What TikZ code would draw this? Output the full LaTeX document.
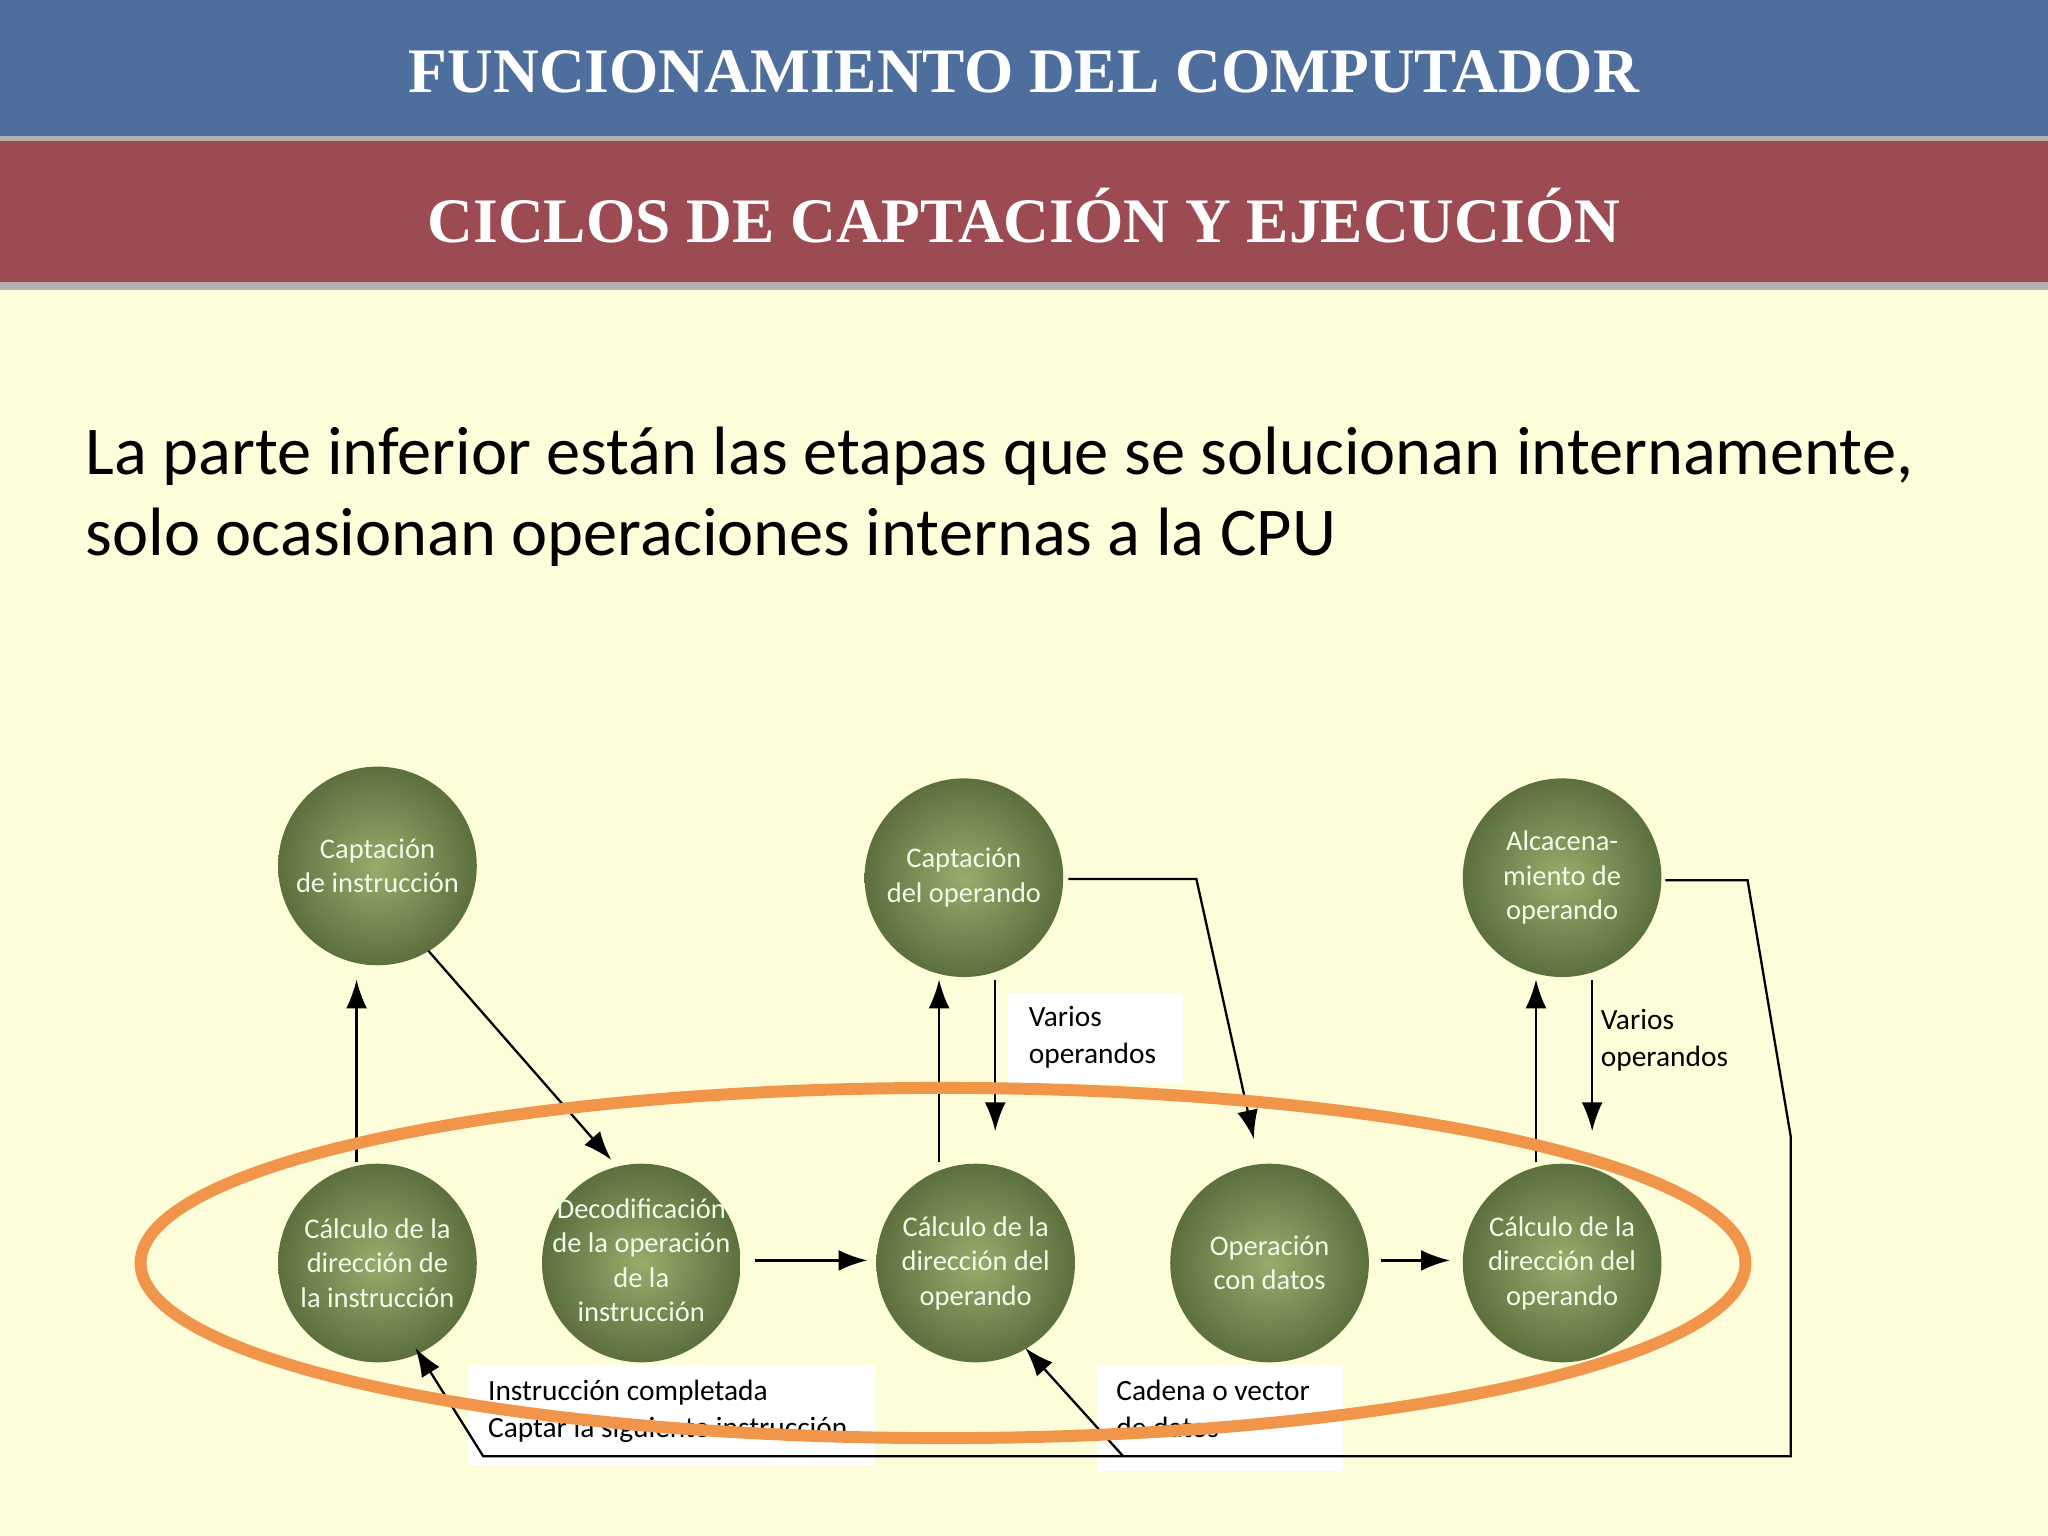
\documentclass[tikz,border=0pt]{standalone}
\usepackage{fontspec}
\setmainfont{Carlito}
\newfontfamily\titlefont{Liberation Serif}
\usetikzlibrary{arrows.meta,shapes.geometric}
\definecolor{bg}{HTML}{FDFDD9}
\definecolor{bannerblue}{HTML}{4E6E9E}
\definecolor{bannerred}{HTML}{9C4B52}
\definecolor{ballin}{HTML}{97AD6C}
\definecolor{ballout}{HTML}{5C703E}
\definecolor{orng}{HTML}{F0954A}
\tikzset{
 ball/.style={circle,inner sep=0pt,inner color=ballin,outer color=ballout,text=white!92!green,align=center,font=\fontsize{6.2}{7.5}\selectfont,minimum size=1.52cm},
 conn/.style={-{Latex[length=2.2mm,width=1.6mm]},line width=0.5pt},
 lbl/.style={align=left,anchor=north west,font=\fontsize{6.4}{8}\selectfont,inner sep=0pt},
 ttl/.style={text=white,font=\titlefont\bfseries\fontsize{13.8}{17}\selectfont}
}
\begin{document}
\begin{tikzpicture}[x=0.01cm,y=-0.01cm]
\useasboundingbox (0,0) rectangle (1568,1176);
\fill[bg] (0,0) rectangle (1568,1176);
\fill[black!30] (0,103) rectangle (1568,110);
\fill[bannerblue] (0,0) rectangle (1568,104);
\fill[black!30] (0,214) rectangle (1568,222);
\fill[bannerred] (0,108) rectangle (1568,216);
\node[ttl] (t1) at (784,55) {FUNCIONAMIENTO DEL COMPUTADOR};
\node[ttl] (t2) at (784,165) {CICLOS DE CAPTACIÓN Y EJECUCIÓN};
\node[anchor=north west,align=left,inner sep=0pt,font=\fontsize{14.9}{17.6}\selectfont] (body) at (65,326)
 {La parte inferior están las etapas que se solucionan internamente,\\solo ocasionan operaciones internas a la CPU};
% label boxes
\fill[white] (772,760) rectangle (906,830);
\node[lbl] (v1) at (787,770) {Varios\\operandos};
\node[lbl] (v2) at (1225,772) {Varios\\operandos};
\fill[white] (358,1045) rectangle (670,1122);
\node[lbl] (ic) at (373,1056) {Instrucción completada\\Captar la siguiente instrucción};
\fill[white] (840,1045) rectangle (1028,1126);
\node[lbl] (cv) at (854,1056) {Cadena o vector\\de datos};
% circles
\node[ball] (c1) at (289,663) {Captación\\de instrucción};
\node[ball] (c2) at (738,672) {Captación\\del operando};
\node[ball] (c3) at (1196,672) {Alcacena-\\miento de\\operando};
\node[ball] (b1) at (289,967) {Cálculo de la\\dirección de\\la instrucción};
\node[ball] (b2) at (491,967) {\makebox[0pt]{\begin{tabular}{@{}c@{}}Decodificación\\de la operación\\de la\\instrucción\end{tabular}}};
\node[ball] (b3) at (747,967) {Cálculo de la\\dirección del\\operando};
\node[ball] (b4) at (972,967) {Operación\\con datos};
\node[ball] (b5) at (1196,967) {Cálculo de la\\dirección del\\operando};
% connectors
\coordinate (a1) at (273,890); \coordinate (a2) at (273,750);
\draw[conn] (a1) -- (a2);
\coordinate (d1) at (328,728); \coordinate (d2) at (468,888);
\draw[conn] (d1) -- (d2);
\coordinate (e1) at (578,965); \coordinate (e2) at (664,965);
\draw[conn] (e1) -- (e2);
\coordinate (f1) at (719,890); \coordinate (f2) at (719,750);
\draw[conn] (f1) -- (f2);
\coordinate (g1) at (762,750); \coordinate (g2) at (762,866);
\draw[conn] (g1) -- (g2);
\coordinate (h1) at (818,673); \coordinate (h2) at (916,673); \coordinate (h3) at (960,872);
\draw[conn] (h1) -- (h2) -- (h3);
\coordinate (i1) at (1057,965); \coordinate (i2) at (1110,965);
\draw[conn] (i1) -- (i2);
\coordinate (j1) at (1176,890); \coordinate (j2) at (1176,750);
\draw[conn] (j1) -- (j2);
\coordinate (k1) at (1219,750); \coordinate (k2) at (1219,866);
\draw[conn] (k1) -- (k2);
\coordinate (m1) at (1275,674); \coordinate (m2) at (1338,674); \coordinate (m3) at (1371,870);
\coordinate (m4) at (1371,1115); \coordinate (m5) at (370,1115); \coordinate (m6) at (318,1032);
\draw[conn] (m1) -- (m2) -- (m3) -- (m4) -- (m5) -- (m6);
\coordinate (n1) at (860,1115); \coordinate (n2) at (785,1032);
\draw[conn] (n1) -- (n2);
% ellipse
\node[draw=orng,line width=2.6pt,ellipse,minimum width=12.28cm,minimum height=2.68cm,inner sep=0pt] (ell) at (722,967) {};
\end{tikzpicture}
\end{document}
